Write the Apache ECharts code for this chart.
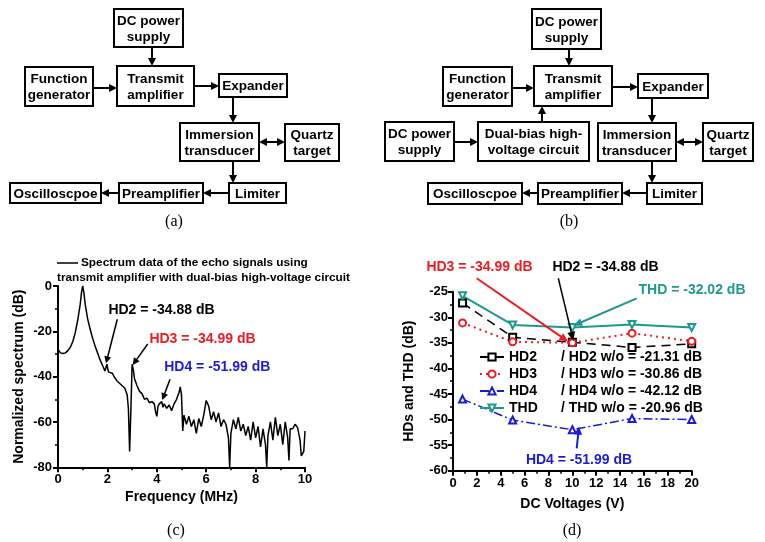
<!DOCTYPE html>
<html><head><meta charset="utf-8">
<script src="https://cdn.jsdelivr.net/npm/echarts@6/dist/echarts.min.js"></script>
<style>html,body{margin:0;padding:0;background:#fff}#c{width:765px;height:542px}</style>
</head><body><div id="c"></div>
<script>
// ---------- data: panel (c) spectrum ----------
const freqMHz = [0,0.1,0.2,0.3,0.4,0.5,0.6,0.7,0.8,0.9,0.95,1.0,1.05,1.1,1.2,1.3,1.4,1.5,1.6,1.7,1.8,1.9,1.95,1.98,2.02,2.05,2.1,2.2,2.3,2.4,2.5,2.6,2.7,2.8,2.85,2.9,2.95,3.0,3.05,3.1,3.2,3.3,3.4,3.5,3.6,3.7,3.8,3.9,3.95,4.0,4.05,4.1,4.2,4.25,4.3,4.4,4.5,4.6,4.7,4.8,4.9,4.95,5.0,5.05,5.1,5.2,5.3,5.4,5.5,5.6,5.7,5.8,5.9,6.0,6.1,6.2,6.3,6.4,6.5,6.6,6.7,6.8,6.9,6.95,7.0,7.1,7.2,7.3,7.4,7.5,7.6,7.7,7.8,7.9,8.0,8.1,8.2,8.3,8.4,8.45,8.5,8.6,8.7,8.8,8.9,9.0,9.1,9.2,9.3,9.35,9.4,9.5,9.6,9.7,9.8,9.85,9.9,9.95,10.0];
const spectrumDb = [-28,-29.5,-29.8,-29.5,-28.5,-27,-24.5,-20.5,-15,-8,-3,0,-3,-8,-14.5,-19,-23,-26.5,-29.5,-32.5,-35,-37.5,-38,-34.5,-37,-38,-38,-38.5,-40.5,-42,-43,-44,-45,-48,-54,-73,-55,-34.5,-37,-41,-44,-46.5,-47.5,-50,-49.5,-51.5,-51,-52,-55.5,-57.5,-53,-52,-51,-53.5,-52,-54,-52.5,-55,-52,-50,-47,-44.5,-48,-64,-57,-61,-57.5,-62,-59,-65,-58.5,-62,-57,-50.5,-53,-59,-55.5,-60,-56,-62,-59,-61,-67,-80,-65,-59,-63,-58,-64,-61,-66,-62,-68,-60,-67,-62,-71,-63,-70,-80,-66,-60,-68,-58,-66,-61,-70,-60,-67,-77,-63,-63,-61,-62.5,-68,-75,-74,-73,-64];

// ---------- data: panel (d) harmonic distortion ----------
const dcVoltages = [0.8, 5, 10, 15, 20];
const hd2Db = [-27.2, -33.9, -34.88, -35.9, -35.2];
const hd3Db = [-31.1, -34.8, -34.99, -33.1, -34.7];
const hd4Db = [-46.0, -50.1, -51.99, -49.8, -50.0];
const thdDb = [-25.8, -31.5, -32.02, -31.4, -32.0];
const hdNames = ['HD2', 'HD3', 'HD4', 'THD'];
const withoutDb = ['-21.31', '-30.86', '-42.12', '-20.96'];

// ---------- style constants ----------
const FONT = '"Liberation Sans", Arial, sans-serif';
const SERIF = '"Liberation Serif", "DejaVu Serif", serif';
const RED = '#ec1c24', BLUE = '#1c1cd6', TEAL = '#1e9a8c', BLACK = '#000';

function box(x, y, w, h, text) {
  return [
    {type:'rect', shape:{x:x, y:y, width:w, height:h}, style:{fill:'#fff', stroke:'#000', lineWidth:2}, z:10},
    {type:'text', x:x + w/2, y:y + h/2 + 1, style:{text:text, align:'center', verticalAlign:'middle',
      fontSize:13.5, fontWeight:'bold', fontFamily:FONT, fill:'#000', lineHeight:16}, z:11}
  ];
}
function arrow(x1, y1, x2, y2, opt) {
  opt = opt || {};
  const color = opt.color || '#000', lw = opt.width || 2, hl = opt.head || 8, hw = opt.hw || 4;
  const dx = x2 - x1, dy = y2 - y1, L = Math.sqrt(dx*dx + dy*dy), ux = dx/L, uy = dy/L;
  const px = -uy, py = ux;
  const els = [];
  let sx = x1, sy = y1;
  if (opt.both) { sx = x1 + ux*hl; sy = y1 + uy*hl;
    els.push({type:'polygon', shape:{points:[[x1,y1],[x1+ux*hl+px*hw, y1+uy*hl+py*hw],[x1+ux*hl-px*hw, y1+uy*hl-py*hw]]}, style:{fill:color}, z:12});
  }
  const ex = x2 - ux*hl, ey = y2 - uy*hl;
  els.push({type:'line', shape:{x1:sx, y1:sy, x2:ex + ux*1, y2:ey + uy*1}, style:{stroke:color, lineWidth:lw}, z:12});
  els.push({type:'polygon', shape:{points:[[x2,y2],[ex+px*hw, ey+py*hw],[ex-px*hw, ey-py*hw]]}, style:{fill:color}, z:12});
  return els;
}
function label(x, y, text, color, size, family, weight) {
  return {type:'text', x:x, y:y, style:{text:text, align:'center', verticalAlign:'middle', fontSize:size || 14,
    fontWeight:weight || 'bold', fontFamily:family || FONT, fill:color || '#000'}, z:13};
}

let g = [];
// ----- (a) block diagram -----
g = g.concat(
  box(114, 9, 69, 38, 'DC power\nsupply'),
  box(25, 67, 68, 39, 'Function\ngenerator'),
  box(117, 66, 77, 40, 'Transmit\namplifier'),
  box(219, 74, 68, 23, 'Expander'),
  box(180, 123, 79, 38, 'Immersion\ntransducer'),
  box(285, 124, 54, 37, 'Quartz\ntarget'),
  box(229, 183, 57, 20, 'Limiter'),
  box(119, 183, 84, 20, 'Preamplifier'),
  box(10, 183, 91, 20, 'Oscilloscpoe'),
  arrow(152, 47, 152, 66),
  arrow(93, 88, 117, 88),
  arrow(194, 86, 219, 86),
  arrow(233, 97, 233, 123),
  arrow(259, 142, 285, 142, {both:true}),
  arrow(233, 161, 233, 183),
  arrow(229, 193, 203, 193),
  arrow(119, 193, 101, 193)
);
// ----- (b) block diagram -----
g = g.concat(
  box(532, 9, 69, 40, 'DC power\nsupply'),
  box(443, 67, 69, 39, 'Function\ngenerator'),
  box(534, 66, 78, 40, 'Transmit\namplifier'),
  box(638, 74, 70, 24, 'Expander'),
  box(385, 122, 69, 39, 'DC power\nsupply'),
  box(478, 122, 111, 39, 'Dual-bias high-\nvoltage circuit'),
  box(598, 123, 78, 38, 'Immersion\ntransducer'),
  box(703, 123, 50, 38, 'Quartz\ntarget'),
  box(647, 183, 55, 21, 'Limiter'),
  box(538, 183, 84, 21, 'Preamplifier'),
  box(428, 183, 94, 21, 'Oscilloscpoe'),
  arrow(569, 49, 569, 66),
  arrow(512, 88, 534, 88),
  arrow(542, 122, 542, 106),
  arrow(454, 142, 478, 142),
  arrow(612, 87, 638, 87),
  arrow(652, 98, 652, 123),
  arrow(676, 142, 703, 142, {both:true}),
  arrow(652, 161, 652, 183),
  arrow(647, 193, 622, 193),
  arrow(538, 193, 522, 193)
);
// ----- panel labels -----
g.push(label(174, 222, '(a)', '#000', 16, SERIF, 'normal'));
g.push(label(569, 222, '(b)', '#000', 16, SERIF, 'normal'));
g.push(label(176, 531, '(c)', '#000', 16, SERIF, 'normal'));
g.push(label(572, 531, '(d)', '#000', 16, SERIF, 'normal'));
// ----- (c) legend & annotations -----
g.push({type:'line', shape:{x1:57, y1:263, x2:78, y2:263}, style:{stroke:'#000', lineWidth:1.5}, z:13});
g.push({type:'text', x:81, y:263, style:{text:'Spectrum data of the echo signals using', align:'left', verticalAlign:'middle', fontSize:11.8, fontWeight:'bold', fontFamily:FONT, fill:'#000'}, z:13});
g.push({type:'text', x:57, y:278, style:{text:'transmit amplifier with dual-bias high-voltage circuit', align:'left', verticalAlign:'middle', fontSize:11.8, fontWeight:'bold', fontFamily:FONT, fill:'#000'}, z:13});
g.push(label(161.5, 310, 'HD2 = -34.88 dB', BLACK));
g.push(label(202.5, 339, 'HD3 = -34.99 dB', RED));
g.push(label(217.3, 366.7, 'HD4 = -51.99 dB', BLUE));
g = g.concat(
  arrow(117.3, 319.3, 106, 363.3, {width:1.5, head:7, hw:3.5}),
  arrow(147.7, 344, 132.7, 365, {width:1.5, head:7, hw:3.5}),
  arrow(170, 379.3, 162.3, 400, {width:1.5, head:7, hw:3.5})
);
// ----- (d) annotations -----
g.push(label(479.5, 267.3, 'HD3 = -34.99 dB', RED));
g.push(label(605.5, 267.3, 'HD2 = -34.88 dB', BLACK));
g.push(label(692, 290, 'THD = -32.02 dB', TEAL));
g.push(label(579, 460, 'HD4 = -51.99 dB', BLUE));
g = g.concat(
  arrow(476.7, 278.3, 568.3, 341.7, {color:RED, width:2, head:9, hw:4}),
  arrow(558.3, 278.3, 573.3, 340.7, {color:BLACK, width:1.5, head:9, hw:4}),
  arrow(636.7, 298.3, 573.3, 325.7, {color:TEAL, width:2, head:9, hw:4}),
  arrow(576.7, 448.3, 579, 426.7, {color:BLUE, width:2, head:8, hw:4})
);

const axisCommon = {
  axisLine:{show:true, onZero:false, lineStyle:{color:'#000', width:2}},
  axisTick:{show:true, inside:false, length:5, lineStyle:{color:'#000', width:2}},
  minorTick:{show:true, splitNumber:2, length:3, lineStyle:{color:'#000', width:1.5}},
  splitLine:{show:false},
  nameLocation:'middle',
  nameTextStyle:{fontSize:14, fontWeight:'bold', fontFamily:FONT, color:'#000'}
};
const tickLabel = (m) => ({fontSize:13, fontWeight:'bold', fontFamily:FONT, color:'#000', margin:m});

const lineSeries = (name, data, color, dash, symbol, rot, width) => ({
  name:name, type:'line', xAxisIndex:1, yAxisIndex:1,
  data:dcVoltages.map((v, i) => [v, data[i]]),
  symbol:symbol, symbolSize:7, symbolRotate:rot || 0,
  lineStyle:{color:color, width:width || 1.5, type:dash},
  itemStyle:{color:color, borderColor:color, borderWidth:1},
  emphasis:{disabled:true}, animation:false, z:3
});

const option = {
  backgroundColor:'#fff',
  animation:false,
  grid:[
    {left:58, top:286, width:247, height:181.3},
    {left:453, top:291.7, width:238.7, height:179}
  ],
  xAxis:[
    Object.assign({}, axisCommon, {gridIndex:0, type:'value', min:0, max:10, interval:2,
      name:'Frequency (MHz)', nameGap:23, axisLabel:tickLabel(6)}),
    Object.assign({}, axisCommon, {gridIndex:1, type:'value', min:0, max:20, interval:2,
      name:'DC Voltages (V)', nameGap:26, axisLabel:tickLabel(6)})
  ],
  yAxis:[
    Object.assign({}, axisCommon, {gridIndex:0, type:'value', min:-80, max:0, interval:20,
      name:'Normalized spectrum (dB)', nameGap:32, axisLabel:tickLabel(6)}),
    Object.assign({}, axisCommon, {gridIndex:1, type:'value', min:-60, max:-25, interval:5,
      name:'HDs and THD (dB)', nameGap:37, axisLabel:tickLabel(5)})
  ],
  legend:{
    data:hdNames, orient:'vertical', left:474, top:345, itemWidth:24, itemHeight:9, itemGap:3,
    selectedMode:false,
    formatter:(name) => '{a|' + name + '}{b|/ ' + name + ' w/o = ' + withoutDb[hdNames.indexOf(name)] + ' dB}',
    textStyle:{fontSize:14, fontWeight:'bold', fontFamily:FONT, color:'#000',
      rich:{a:{width:52, fontSize:14, fontWeight:'bold', fontFamily:FONT, color:'#000'},
            b:{fontSize:14, fontWeight:'bold', fontFamily:FONT, color:'#000'}}}
  },
  series:[
    {name:'Spectrum', type:'line', xAxisIndex:0, yAxisIndex:0,
     data:freqMHz.map((f, i) => [f, spectrumDb[i]]), showSymbol:false, symbol:'none',
     lineStyle:{color:'#000', width:1.5}, emphasis:{disabled:true}, animation:false, clip:true},
    lineSeries('HD2', hd2Db, BLACK, [9, 6], 'emptyRect', 0, 1.5),
    lineSeries('HD3', hd3Db, RED, [2, 4], 'emptyCircle', 0, 2),
    lineSeries('HD4', hd4Db, BLUE, [9, 3, 2, 3], 'emptyTriangle', 0, 1.5),
    lineSeries('THD', thdDb, TEAL, 'solid', 'emptyTriangle', 180, 2)
  ],
  graphic:g
};

const chart = echarts.init(document.getElementById('c'), null, {renderer:'canvas'});
chart.setOption(option);
</script>
</body></html>
